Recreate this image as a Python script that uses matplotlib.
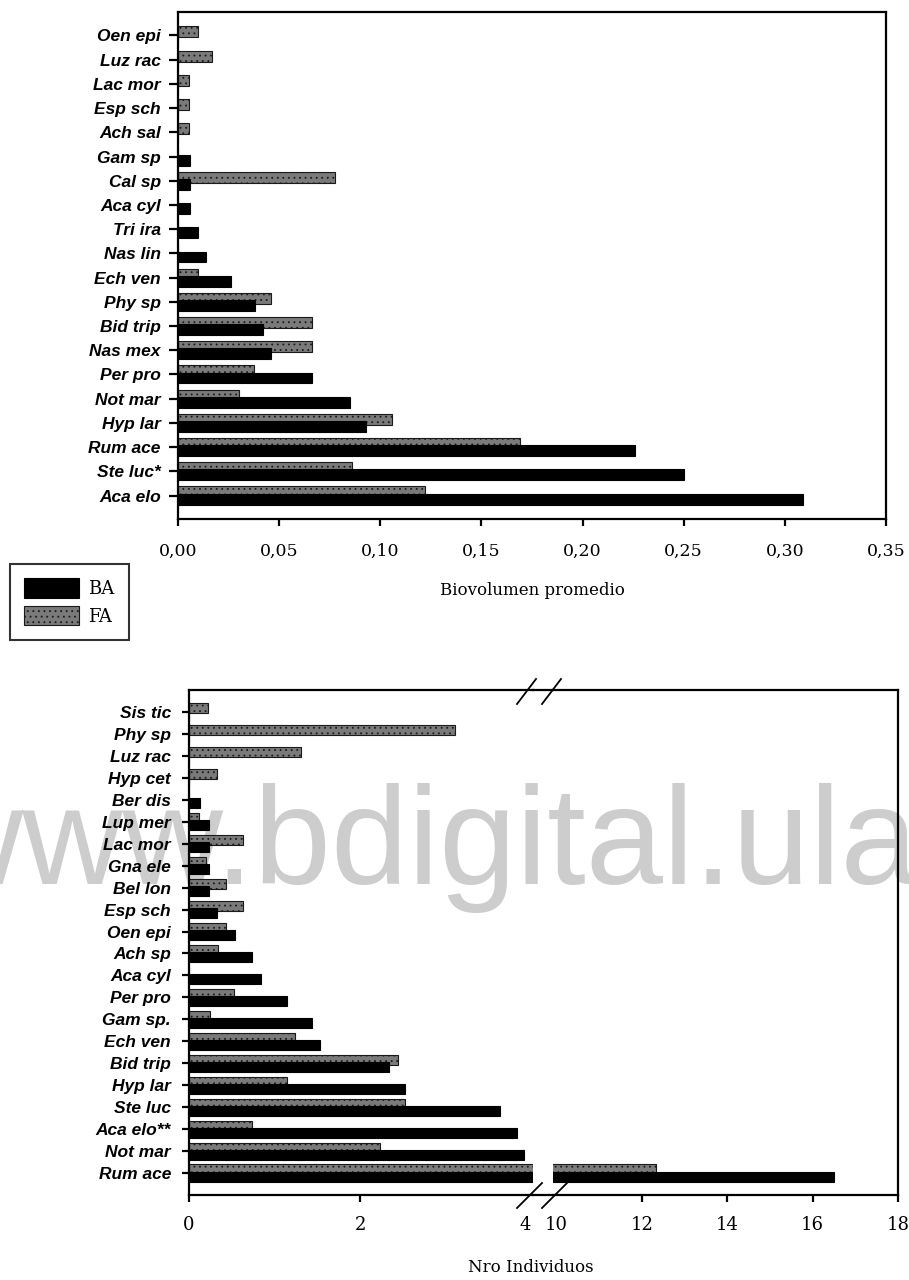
import matplotlib
matplotlib.use('Agg')
import matplotlib.pyplot as plt
from matplotlib.patches import Patch
from matplotlib.lines import Line2D
from matplotlib import font_manager
import numpy as np

# --- top panel: biovolumen promedio ---
bio_species = ['Aca elo', 'Ste luc*', 'Rum ace', 'Hyp lar', 'Not mar', 'Per pro', 'Nas mex',
               'Bid trip', 'Phy sp', 'Ech ven', 'Nas lin', 'Tri ira', 'Aca cyl', 'Cal sp',
               'Gam sp', 'Ach sal', 'Esp sch', 'Lac mor', 'Luz rac', 'Oen epi']
bio_BA = [0.309, 0.250, 0.226, 0.093, 0.085, 0.066, 0.046, 0.042, 0.038, 0.026,
          0.014, 0.010, 0.006, 0.006, 0.006, 0, 0, 0, 0, 0]
bio_FA = [0.122, 0.086, 0.169, 0.106, 0.030, 0.0375, 0.066, 0.066, 0.046, 0.010,
          0, 0, 0, 0.0775, 0, 0.0055, 0.0055, 0.0055, 0.017, 0.010]
bio_ticks = [0, 0.05, 0.10, 0.15, 0.20, 0.25, 0.30, 0.35]
bio_ticklabels = ['0,00', '0,05', '0,10', '0,15', '0,20', '0,25', '0,30', '0,35']

# --- bottom panel: numero de individuos (broken axis) ---
ind_species = ['Rum ace', 'Not mar', 'Aca elo**', 'Ste luc', 'Hyp lar', 'Bid trip', 'Ech ven',
               'Gam sp.', 'Per pro', 'Aca cyl', 'Ach sp', 'Oen epi', 'Esp sch', 'Bel lon',
               'Gna ele', 'Lac mor', 'Lup mer', 'Ber dis', 'Hyp cet', 'Luz rac', 'Phy sp', 'Sis tic']
ind_BA = [16.5, 3.92, 3.83, 3.63, 2.53, 2.34, 1.53, 1.44, 1.15, 0.84, 0.74, 0.54,
          0.33, 0.23, 0.23, 0.23, 0.23, 0.13, 0, 0, 0, 0]
ind_FA = [12.33, 2.23, 0.74, 2.53, 1.15, 2.44, 1.24, 0.25, 0.53, 0, 0.34, 0.43,
          0.63, 0.43, 0.2, 0.63, 0.12, 0, 0.33, 1.31, 3.11, 0.22]
ind_ticks_left = [0, 2, 4]
ind_ticks_right = [10, 12, 14, 16, 18]

W, H = 909, 1280
fig = plt.figure(figsize=(W / 100, H / 100), dpi=100)

serif = 'DejaVu Serif'
lab_font = dict(family='Liberation Sans', style='italic', weight='bold', size=12.5)
gray = '#7a7a7a'
ba_style = dict(color='black', edgecolor='black', linewidth=0.8, zorder=3)
fa_style = dict(color=gray, edgecolor='#1a1a1a', linewidth=0.8, hatch='...', zorder=2)
plt.rcParams['hatch.linewidth'] = 0.6

# watermark (behind the axes)
try:
    font_manager.findfont(font_manager.FontProperties(family='Liberation Sans Narrow'),
                          fallback_to_default=False)
    wm_family, wm_size = 'Liberation Sans Narrow', 119
except ValueError:
    wm_family, wm_size = 'Liberation Sans', 100
fig.text(918 / W, 1 - 884 / H, 'www.bdigital.ula', family=wm_family, fontsize=wm_size,
         color='#cdcdcd', ha='right', va='baseline', zorder=-1)


def style_axis(ax):
    for s in ax.spines.values():
        s.set_linewidth(1.6)
    ax.set_facecolor('none')


# ---------------- top panel ----------------
ax1 = fig.add_axes([178 / W, 1 - 519 / H, 708 / W, 507 / H])
style_axis(ax1)
y1 = np.arange(len(bio_species))
h1, off1 = 0.45, 0.148
ax1.barh(y1 + off1, bio_FA, height=h1, **fa_style)
ax1.barh(y1 - off1, bio_BA, height=h1, **ba_style)
ax1.set_xlim(0, 0.35)
ax1.set_ylim(-0.97, len(bio_species) - 0.03)
ax1.set_xticks(bio_ticks)
ax1.set_xticklabels(bio_ticklabels, family=serif, fontsize=12.5)
ax1.set_yticks(y1)
ax1.set_yticklabels(bio_species, **lab_font)
ax1.tick_params(axis='x', direction='out', length=5, width=1.6, pad=12)
ax1.tick_params(axis='y', direction='out', length=6.5, width=1.6, pad=6)
ax1.set_xlabel('Biovolumen promedio', family=serif, fontsize=12, labelpad=16)

# legend
handles = [Patch(facecolor='black', edgecolor='black', linewidth=0.8, label='BA'),
           Patch(facecolor=gray, edgecolor='#1a1a1a', linewidth=0.8, hatch='...', label='FA')]
leg = fig.legend(handles=handles, loc='upper left', bbox_to_anchor=(10 / W, 1 - 564 / H),
                 frameon=True, fancybox=False, borderaxespad=0, handlelength=3.0,
                 handleheight=1.25, handletextpad=0.55, borderpad=0.8, labelspacing=0.45,
                 prop=dict(family=serif, size=13))
leg.get_frame().set_edgecolor('black')
leg.get_frame().set_linewidth(1.5)

# ---------------- bottom panel (broken axis) ----------------
bot, ht = 1 - 1195 / H, 505 / H
axL = fig.add_axes([189 / W, bot, 344 / W, ht])
axR = fig.add_axes([553 / W, bot, 345 / W, ht])
y2 = np.arange(len(ind_species))
h2, off2 = 0.46, 0.16
for ax in (axL, axR):
    style_axis(ax)
    ax.barh(y2 + off2, ind_FA, height=h2, **fa_style)
    ax.barh(y2 - off2, ind_BA, height=h2, **ba_style)
    ax.set_ylim(-1, len(ind_species))
    ax.tick_params(axis='x', direction='out', length=5, width=1.6, pad=10)

axL.set_xlim(0, 4.02)
axR.set_xlim(9.92, 18)
axL.spines['right'].set_visible(False)
axR.spines['left'].set_visible(False)
axL.set_yticks(y2)
axL.set_yticklabels(ind_species, **lab_font)
axL.tick_params(axis='y', direction='out', length=5, width=1.6, pad=8)
axR.tick_params(axis='y', left=False, labelleft=False)
axL.set_xticks(ind_ticks_left)
axL.set_xticklabels([str(t) for t in ind_ticks_left], family=serif, fontsize=13)
axR.set_xticks(ind_ticks_right)
axR.set_xticklabels([str(t) for t in ind_ticks_right], family=serif, fontsize=13)
axL.xaxis.get_major_ticks()[-1].tick1line.set_visible(False)
axL.get_xticklabels()[-1].set_ha('right')
axR.xaxis.get_major_ticks()[0].tick1line.set_visible(False)

# spine continuation over the gap and break marks
for yy in (690, 1195):
    fig.add_artist(Line2D([533 / W, 553 / W], [1 - yy / H, 1 - yy / H], color='black', lw=1.6))
for x0 in (517, 542):
    fig.add_artist(Line2D([x0 / W, (x0 + 19) / W], [1 - 704 / H, 1 - 679 / H], color='black', lw=1.3))
    fig.add_artist(Line2D([x0 / W, (x0 + 25) / W], [1 - 1208 / H, 1 - 1183 / H], color='black', lw=1.3))

fig.text(531 / W, 1 - 1267 / H, 'Nro Individuos', family=serif, fontsize=12,
         ha='center', va='center')

fig.savefig('out.png', dpi=100)
